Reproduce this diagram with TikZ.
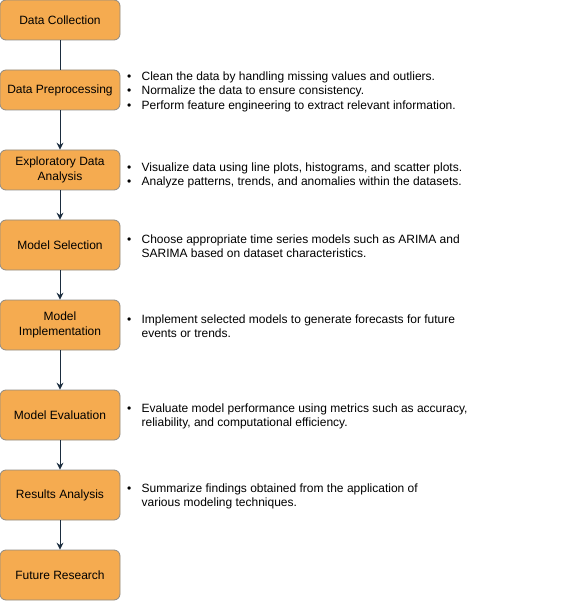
\documentclass[tikz,border=0pt]{standalone}
\usepackage{fontspec}
\setmainfont{Liberation Sans}
\usepackage{tikz}
\usetikzlibrary{arrows.meta,positioning}
\definecolor{stagefill}{HTML}{F5AB50}
\definecolor{stageline}{HTML}{8E8A84}
\definecolor{flowline}{HTML}{1B2D3F}
\tikzset{
  stage/.style={rectangle,rounded corners=6pt,draw=stageline,fill=stagefill,line width=0.8pt,
    minimum width=120pt,minimum height=40pt,inner sep=2pt,align=center,
    font=\fontsize{12}{14.4}\selectfont},
  stagetall/.style={stage,minimum height=50pt},
  note/.style={anchor=west,inner sep=0pt,align=left,yshift=-1.5pt,font=\fontsize{12}{14.4}\selectfont},
  flowplain/.style={flowline,line width=0.9pt},
  flow/.style={flowplain,-{Stealth[length=7pt,width=7pt,inset=2.5pt]}},
}
\newcommand{\bul}{\makebox[15pt][l]{\hspace{0.5pt}•}}
\newcommand{\cont}{\hspace{15pt}}

\begin{document}
\begin{tikzpicture}[x=1pt,y=-1pt]
    \useasboundingbox (0,0) rectangle (571,601);
    \node[stage] (dc) at (60,20) {Data Collection};
    \node[stage] (dp) at (60,90) {Data Preprocessing};
    \node[stage] (eda) at (60,170) {Exploratory Data\\Analysis};
    \node[stagetall] (ms) at (60,245) {Model Selection};
    \node[stagetall] (mi) at (60,325) {Model\\Implementation};
    \node[stagetall] (me) at (60,415) {Model Evaluation};
    \node[stagetall] (ra) at (60,495) {Results Analysis};
    \node[stagetall] (fr) at (60,575) {Future Research};
    \draw[flowplain] (dc) -- (dp);
    \draw[flow] (dp) -- (eda);
    \draw[flow] (eda) -- (ms);
    \draw[flow] (ms) -- (mi);
    \draw[flow] (mi) -- (me);
    \draw[flow] (me) -- (ra);
    \draw[flow] (ra) -- (fr);
    % bullet notes
    \node[note,right=6pt of dp] (ndp) {\bul Clean the data by handling missing values and outliers.\\
      \bul Normalize the data to ensure consistency.\\
      \bul Perform feature engineering to extract relevant information.};
    \node[note,right=6pt of eda,yshift=-4pt] (neda) {\bul Visualize data using line plots, histograms, and scatter plots.\\
      \bul Analyze patterns, trends, and anomalies within the datasets.};
    \node[note,right=6pt of ms] (nms) {\bul Choose appropriate time series models such as ARIMA and\\
      \cont SARIMA based on dataset characteristics.};
    \node[note,right=6pt of mi] (nmi) {\bul Implement selected models to generate forecasts for future\\
      \cont events or trends.};
    \node[note,right=6pt of me] (nme) {\bul Evaluate model performance using metrics such as accuracy,\\
      \cont reliability, and computational efficiency.};
    \node[note,right=6pt of ra] (nra) {\bul Summarize findings obtained from the application of\\
      \cont various modeling techniques.};
\end{tikzpicture}
\end{document}
